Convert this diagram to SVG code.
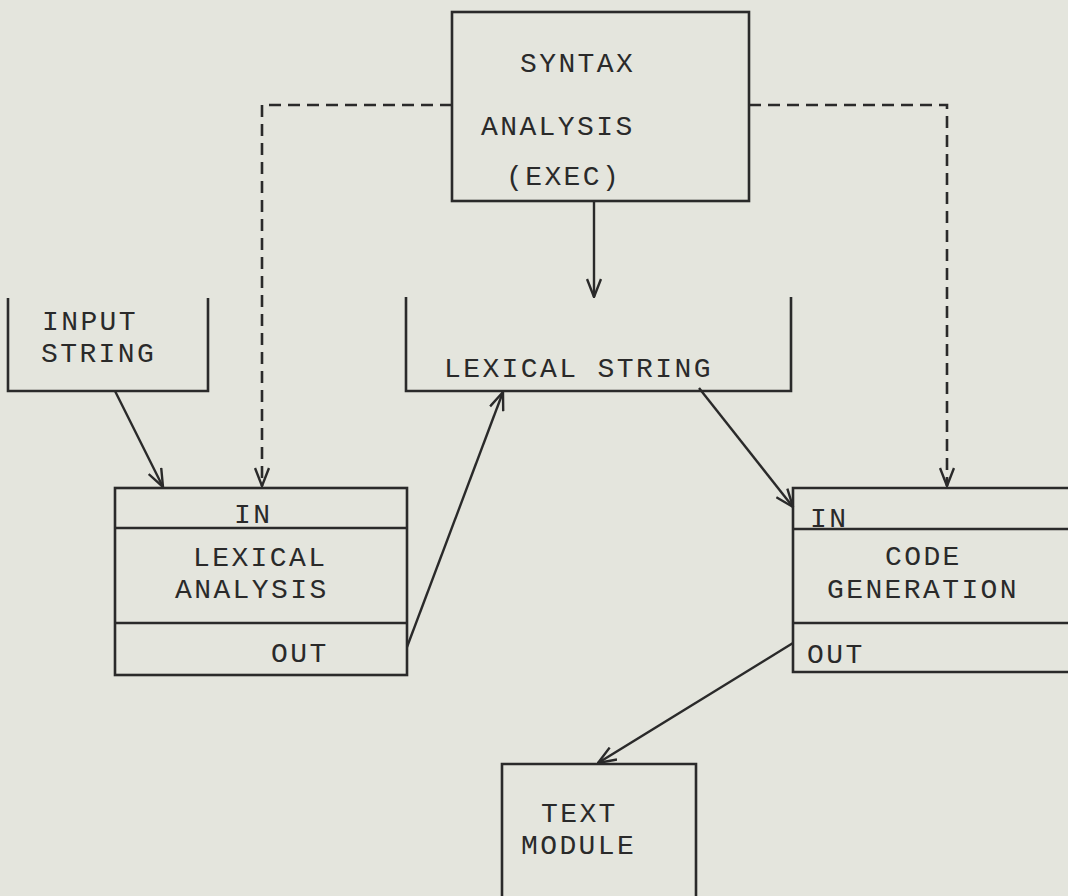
<svg xmlns="http://www.w3.org/2000/svg" width="1068" height="896" viewBox="0 0 1068 896">
  <defs>
    <style>
      .box { fill: none; stroke: #2a2a2a; stroke-width: 2.6; stroke-linejoin: miter; }
      .link { fill: none; stroke: #2a2a2a; stroke-width: 2.4; }
      .dash { fill: none; stroke: #2a2a2a; stroke-width: 2.6; stroke-dasharray: 12 7; }
      .lbl { font-family: "Liberation Mono", "Courier New", monospace; font-size: 28px; letter-spacing: 2.4px; fill: #2a2a2a; }
    </style>
    <marker id="arrow" viewBox="0 0 20 16" refX="19" refY="8" markerWidth="20" markerHeight="16" markerUnits="userSpaceOnUse" orient="auto">
      <path d="M1,1 L19,8 L1,15" fill="none" stroke="#2a2a2a" stroke-width="2.4"/>
    </marker>
  </defs>

  <rect x="0" y="0" width="1068" height="896" fill="#e4e5dd"/>

  <!-- connectors -->
  <g id="connectors">
    <path class="dash" d="M452,105 H262 V486" marker-end="url(#arrow)"/>
    <path class="dash" d="M749,105 H947 V486" marker-end="url(#arrow)"/>
    <path class="link" d="M594,201 V297" marker-end="url(#arrow)"/>
    <path class="link" d="M115,391 L163,487" marker-end="url(#arrow)"/>
    <path class="link" d="M407,647 L503,392" marker-end="url(#arrow)"/>
    <path class="link" d="M699,388 L793,507" marker-end="url(#arrow)"/>
    <path class="link" d="M793,643 L598,763" marker-end="url(#arrow)"/>
  </g>

  <!-- syntax analysis executive -->
  <g id="syntax-analysis">
    <rect class="box" x="452" y="12" width="297" height="189"/>
    <text class="lbl" x="520" y="72">SYNTAX</text>
    <text class="lbl" x="481" y="135">ANALYSIS</text>
    <text class="lbl" x="506" y="185">(EXEC)</text>
  </g>

  <!-- input string buffer (open top) -->
  <g id="input-string">
    <path class="box" d="M8,298 V391 H208 V298"/>
    <text class="lbl" x="42" y="330">INPUT</text>
    <text class="lbl" x="41" y="362">STRING</text>
  </g>

  <!-- lexical string buffer (open top) -->
  <g id="lexical-string">
    <path class="box" d="M406,297 V391 H791 V297"/>
    <text class="lbl" x="444" y="377">LEXICAL STRING</text>
  </g>

  <!-- lexical analysis module -->
  <g id="lexical-analysis">
    <rect class="box" x="115" y="488" width="292" height="187"/>
    <line class="box" x1="115" y1="528" x2="407" y2="528"/>
    <line class="box" x1="115" y1="623" x2="407" y2="623"/>
    <text class="lbl" x="234" y="523">IN</text>
    <text class="lbl" x="193" y="566">LEXICAL</text>
    <text class="lbl" x="175" y="598">ANALYSIS</text>
    <text class="lbl" x="271" y="662">OUT</text>
  </g>

  <!-- code generation module -->
  <g id="code-generation">
    <path class="box" d="M1075,488 H793 V672 H1075"/>
    <line class="box" x1="793" y1="529" x2="1075" y2="529"/>
    <line class="box" x1="793" y1="623" x2="1075" y2="623"/>
    <text class="lbl" x="810" y="527">IN</text>
    <text class="lbl" x="885" y="565">CODE</text>
    <text class="lbl" x="827" y="598">GENERATION</text>
    <text class="lbl" x="807" y="663">OUT</text>
  </g>

  <!-- text module (runs past the lower edge) -->
  <g id="text-module">
    <path class="box" d="M502,900 V764 H696 V900"/>
    <text class="lbl" x="541" y="822">TEXT</text>
    <text class="lbl" x="521" y="854">MODULE</text>
  </g>
</svg>
